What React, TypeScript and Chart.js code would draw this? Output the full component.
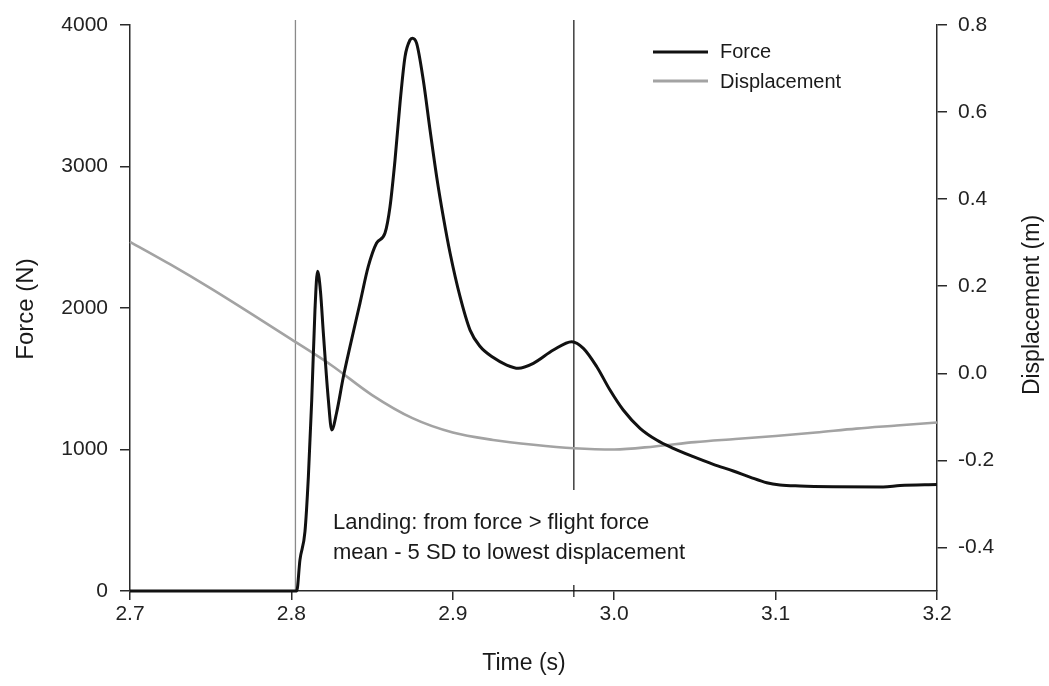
import React, { useEffect, useRef } from "react";
import { Chart, registerables } from "chart.js";

Chart.register(...registerables);

// ---- Data ----
const forceTime = [
  2.7, 2.78, 2.8033, 2.8053, 2.8084, 2.8105, 2.8126, 2.8146, 2.8162, 2.818, 2.8198,
  2.8229, 2.825, 2.828, 2.8322, 2.8363, 2.8425, 2.8476, 2.8528, 2.858, 2.8611,
  2.8642, 2.8673, 2.8704, 2.8735, 2.8749, 2.8776, 2.8817, 2.8859, 2.89, 2.8941,
  2.8983, 2.9045, 2.9107, 2.9168, 2.9251, 2.9334, 2.9406, 2.9499, 2.9623, 2.9737,
  2.9809, 2.9892, 2.9974, 3.0056, 3.016, 3.0263, 3.0366, 3.049, 3.0614, 3.0738,
  3.0841, 3.0945, 3.1027, 3.1151, 3.1356, 3.1666, 3.1771, 3.2,
];
const forceValues = [
  0, 0, 0, 220, 420, 805, 1350, 1986, 2260, 2120, 1823,
  1350, 1138, 1260, 1514, 1727, 2035, 2292, 2459, 2530, 2716,
  3046, 3448, 3776, 3894, 3906, 3870, 3611, 3258, 2928, 2645,
  2389, 2080, 1844, 1730, 1650, 1597, 1574, 1609, 1703, 1762,
  1715, 1585, 1420, 1279, 1150, 1067, 1008, 949, 895, 848,
  805, 765, 749, 742, 737, 735, 745, 752,
];
const dispTime = [
  2.7, 2.725, 2.75, 2.775, 2.8, 2.825, 2.85, 2.875, 2.9, 2.925, 2.95,
  2.975, 3.0, 3.025, 3.05, 3.075, 3.1, 3.125, 3.15, 3.175, 3.2,
];
const dispValues = [
  0.302, 0.25, 0.195, 0.137, 0.078, 0.018, -0.05, -0.103, -0.136, -0.153, -0.164,
  -0.172, -0.175, -0.168, -0.158, -0.151, -0.144, -0.136, -0.127, -0.12, -0.113,
];
const xTicks = [2.7, 2.8, 2.9, 3.0, 3.1, 3.2];
const forceTicks = [0, 1000, 2000, 3000, 4000];
const dispTicks = [-0.4, -0.2, 0, 0.2, 0.4, 0.6, 0.8];
const markerTimes = [2.8025, 2.975];
const seriesLabels = ["Force", "Displacement"];
const xTitle = "Time (s)";
const forceTitle = "Force (N)";
const dispTitle = "Displacement (m)";
const noteLines = ["Landing: from force > flight force", "mean - 5 SD to lowest displacement"];

const FONT = '"Liberation Sans", Arial, Helvetica, sans-serif';
const FORCE_COLOR = "#111111";
const DISP_COLOR = "#a3a3a3";
const AXIS_COLOR = "#2a2a2a";

const overlay = {
  id: "overlay",
  beforeDatasetsDraw(chart: any) {
    const ctx = chart.ctx;
    const area = chart.chartArea;
    const x = chart.scales.x;
    ctx.save();
    const gx = x.getPixelForValue(markerTimes[0]);
    ctx.strokeStyle = "#8a8a8a";
    ctx.lineWidth = 1.3;
    ctx.beginPath();
    ctx.moveTo(gx, area.top - 5);
    ctx.lineTo(gx, area.bottom);
    ctx.stroke();
    const bx = x.getPixelForValue(markerTimes[1]);
    ctx.strokeStyle = "#111";
    ctx.lineWidth = 1.2;
    ctx.beginPath();
    ctx.moveTo(bx, area.top - 5);
    ctx.lineTo(bx, area.bottom - 101);
    ctx.moveTo(bx, area.bottom - 6);
    ctx.lineTo(bx, area.bottom + 6);
    ctx.stroke();
    ctx.restore();
  },
  afterDraw(chart: any) {
    const ctx = chart.ctx;
    ctx.save();
    ctx.fillStyle = "#1a1a1a";
    // axis titles
    ctx.font = `23px ${FONT}`;
    ctx.textAlign = "center";
    ctx.textBaseline = "middle";
    ctx.fillText(xTitle, 524, 664);
    ctx.font = `24px ${FONT}`;
    ctx.save();
    ctx.translate(26, 309);
    ctx.rotate(-Math.PI / 2);
    ctx.fillText(forceTitle, 0, 0);
    ctx.restore();
    ctx.font = `23px ${FONT}`;
    ctx.save();
    ctx.translate(1033, 305);
    ctx.rotate(-Math.PI / 2);
    ctx.fillText(dispTitle, 0, 0);
    ctx.restore();
    // annotation
    ctx.font = `22px ${FONT}`;
    ctx.textAlign = "left";
    ctx.textBaseline = "alphabetic";
    ctx.fillText(noteLines[0], 333, 529);
    ctx.fillText(noteLines[1], 333, 559);
    // legend
    ctx.lineWidth = 3;
    ctx.strokeStyle = FORCE_COLOR;
    ctx.beginPath();
    ctx.moveTo(653, 52);
    ctx.lineTo(708, 52);
    ctx.stroke();
    ctx.strokeStyle = DISP_COLOR;
    ctx.beginPath();
    ctx.moveTo(653, 81);
    ctx.lineTo(708, 81);
    ctx.stroke();
    ctx.font = `20px ${FONT}`;
    ctx.fillText(seriesLabels[0], 720, 58);
    ctx.fillText(seriesLabels[1], 720, 88);
    ctx.restore();
  },
};

export default function App() {
  const ref = useRef<HTMLCanvasElement | null>(null);
  useEffect(() => {
    if (!ref.current) return;
    const tickFont = { family: FONT, size: 21 };
    const chart = new Chart(ref.current, {
      type: "line",
      data: {
        datasets: [
          {
            label: seriesLabels[0],
            data: forceTime.map((t, i) => ({ x: t, y: forceValues[i] })),
            borderColor: FORCE_COLOR,
            borderWidth: 3,
            pointRadius: 0,
            cubicInterpolationMode: "monotone",
            yAxisID: "y",
            clip: 8,
          },
          {
            label: seriesLabels[1],
            data: dispTime.map((t, i) => ({ x: t, y: dispValues[i] })),
            borderColor: DISP_COLOR,
            borderWidth: 2.6,
            pointRadius: 0,
            cubicInterpolationMode: "monotone",
            yAxisID: "y1",
            clip: 8,
          },
        ],
      },
      options: {
        animation: false,
        responsive: true,
        maintainAspectRatio: false,
        layout: { padding: { top: 25, left: 0, right: 0, bottom: 0 } },
        plugins: { legend: { display: false }, tooltip: { enabled: false } },
        scales: {
          x: {
            type: "linear",
            min: 2.7,
            max: 3.2,
            afterBuildTicks: (s: any) => {
              s.ticks = xTicks.map((v) => ({ value: v }));
            },
            afterFit: (s: any) => {
              s.height = 95;
            },
            ticks: {
              font: tickFont,
              color: "#222",
              padding: 2,
              maxRotation: 0,
              callback: (v: any) => Number(v).toFixed(1),
            },
            grid: { drawOnChartArea: false, drawTicks: true, tickLength: 9, color: AXIS_COLOR, lineWidth: 1.5 },
            border: { display: true, color: AXIS_COLOR, width: 1.5 },
          },
          y: {
            type: "linear",
            position: "left",
            min: 0,
            max: 4000,
            afterBuildTicks: (s: any) => {
              s.ticks = forceTicks.map((v) => ({ value: v }));
            },
            afterFit: (s: any) => {
              s.width = 130;
            },
            ticks: {
              font: tickFont,
              color: "#222",
              padding: 12,
              callback: (v: any) => String(v),
            },
            grid: { drawOnChartArea: false, drawTicks: true, tickLength: 10, color: AXIS_COLOR, lineWidth: 1.5 },
            border: { display: true, color: AXIS_COLOR, width: 1.5 },
          },
          y1: {
            type: "linear",
            position: "right",
            min: -0.5,
            max: 0.8,
            afterBuildTicks: (s: any) => {
              s.ticks = dispTicks.map((v) => ({ value: v }));
            },
            afterFit: (s: any) => {
              s.width = 112;
            },
            ticks: {
              font: tickFont,
              color: "#222",
              padding: 11,
              callback: (v: any) => Number(v).toFixed(1),
            },
            grid: { drawOnChartArea: false, drawTicks: true, tickLength: 10, color: AXIS_COLOR, lineWidth: 1.5 },
            border: { display: true, color: AXIS_COLOR, width: 1.5 },
          },
        },
      },
      plugins: [overlay],
    } as any);
    return () => chart.destroy();
  }, []);
  return (
    <div style={{ position: "absolute", left: 0, top: 0, width: 1049, height: 686, background: "#fff" }}>
      <canvas ref={ref} />
    </div>
  );
}
